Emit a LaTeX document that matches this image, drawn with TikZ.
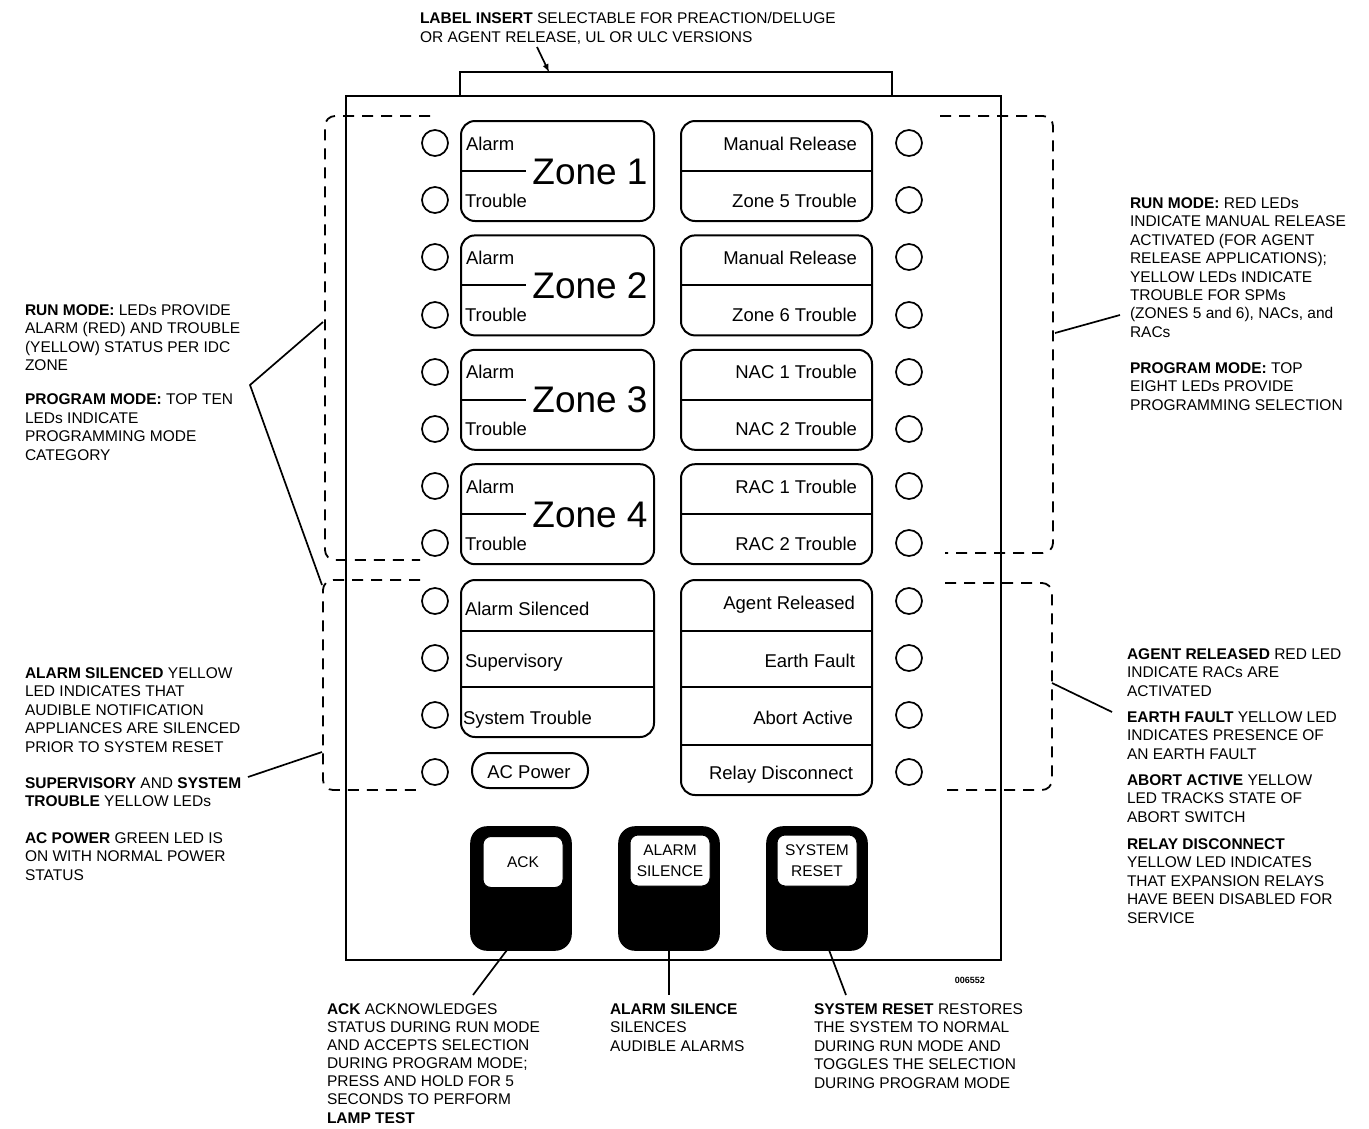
\documentclass[tikz,border=0pt]{standalone}
\usepackage{fontspec}
\setmainfont{Liberation Sans}

\begin{document}
\begin{tikzpicture}[x=1pt, y=-1pt,
  every node/.style={inner sep=0pt, outer sep=0pt},
  note/.style={anchor=north west, align=left, font=\fontsize{15.5}{18.4}\selectfont},
  led/.style={draw, circle, line width=1.7pt, minimum size=26pt},
  box/.style={draw, rectangle, line width=2pt, rounded corners=14pt},
  lbl/.style={font=\fontsize{18.5}{20}\selectfont},
  zonelbl/.style={font=\fontsize{37}{40}\selectfont, anchor=base},
  btn/.style={draw, fill=black, rectangle, line width=1.6pt, rounded corners=16pt, minimum width=100pt, minimum height=123pt},
  btncap/.style={draw, fill=white, rectangle, line width=1pt, rounded corners=8pt, minimum width=80pt, minimum height=51pt, align=center, font=\fontsize{15.5}{21}\selectfont},
  bracket/.style={line width=1.8pt, dash pattern=on 11pt off 8pt, rounded corners=10pt}]

\useasboundingbox (0,0) rectangle (1369,1128);

% panel outline and label insert
\draw [line width=2.2pt] (346,96) rectangle (1001,960);
\draw [line width=2.2pt] (460,96) |- (892,72) -- (892,96);

% LEDs, left column
\node [led] (la1) at (435,143) {};
\node [led] (lb1) at (435,200) {};
\node [led] (la2) at (435,257) {};
\node [led] (lb2) at (435,315) {};
\node [led] (la3) at (435,372) {};
\node [led] (lb3) at (435,429) {};
\node [led] (la4) at (435,486) {};
\node [led] (lb4) at (435,543) {};
\node [led] (lsil) at (435,601) {};
\node [led] (lsup) at (435,658) {};
\node [led] (lsys) at (435,715) {};
\node [led] (lac) at (435,772) {};

% LEDs, right column
\node [led] (ra1) at (909,143) {};
\node [led] (rb1) at (909,200) {};
\node [led] (ra2) at (909,257) {};
\node [led] (rb2) at (909,315) {};
\node [led] (ra3) at (909,372) {};
\node [led] (rb3) at (909,429) {};
\node [led] (ra4) at (909,486) {};
\node [led] (rb4) at (909,543) {};
\node [led] (ragt) at (909,601) {};
\node [led] (rearth) at (909,658) {};
\node [led] (rabort) at (909,715) {};
\node [led] (rrelay) at (909,772) {};

% zone windows
\node [box, minimum width=193pt, minimum height=100pt] (zw1) at (557.5,171) {};
\node [box, minimum width=193pt, minimum height=100pt] (zw2) at (557.5,285.4) {};
\node [box, minimum width=193pt, minimum height=100pt] (zw3) at (557.5,399.8) {};
\node [box, minimum width=193pt, minimum height=100pt] (zw4) at (557.5,514.2) {};
\draw [line width=2pt] (zw1.west) -- ++(65,0);
\draw [line width=2pt] (zw2.west) -- ++(65,0);
\draw [line width=2pt] (zw3.west) -- ++(65,0);
\draw [line width=2pt] (zw4.west) -- ++(65,0);

\node [lbl, anchor=base west] (alm1) at (466,150) {Alarm};
\node [lbl, anchor=base west] (trb1) at (465,207) {Trouble};
\node [zonelbl] (zn1) at (590,184) {Zone 1};
\node [lbl, anchor=base west] (alm2) at (466,264.4) {Alarm};
\node [lbl, anchor=base west] (trb2) at (465,321.4) {Trouble};
\node [zonelbl] (zn2) at (590,298.4) {Zone 2};
\node [lbl, anchor=base west] (alm3) at (466,378.8) {Alarm};
\node [lbl, anchor=base west] (trb3) at (465,435.8) {Trouble};
\node [zonelbl] (zn3) at (590,412.8) {Zone 3};
\node [lbl, anchor=base west] (alm4) at (466,493.2) {Alarm};
\node [lbl, anchor=base west] (trb4) at (465,550.2) {Trouble};
\node [zonelbl] (zn4) at (590,527.2) {Zone 4};

% release / circuit windows
\node [box, minimum width=191pt, minimum height=100pt] (cw1) at (776.5,171) {};
\node [box, minimum width=191pt, minimum height=100pt] (cw2) at (776.5,285.4) {};
\node [box, minimum width=191pt, minimum height=100pt] (cw3) at (776.5,399.8) {};
\node [box, minimum width=191pt, minimum height=100pt] (cw4) at (776.5,514.2) {};
\draw [line width=2pt] (cw1.west) -- (cw1.east);
\draw [line width=2pt] (cw2.west) -- (cw2.east);
\draw [line width=2pt] (cw3.west) -- (cw3.east);
\draw [line width=2pt] (cw4.west) -- (cw4.east);

\node [lbl, anchor=base east] (mr1) at (857,150) {Manual Release};
\node [lbl, anchor=base east] (z5t) at (857,207) {Zone 5 Trouble};
\node [lbl, anchor=base east] (mr2) at (857,264.4) {Manual Release};
\node [lbl, anchor=base east] (z6t) at (857,321.4) {Zone 6 Trouble};
\node [lbl, anchor=base east] (nac1) at (857,378.8) {NAC 1 Trouble};
\node [lbl, anchor=base east] (nac2) at (857,435.8) {NAC 2 Trouble};
\node [lbl, anchor=base east] (rac1) at (857,493.2) {RAC 1 Trouble};
\node [lbl, anchor=base east] (rac2) at (857,550.2) {RAC 2 Trouble};

% common status windows
\node [box, minimum width=193pt, minimum height=157pt] (sw) at (557.5,658.5) {};
\draw [line width=2pt] (461,631) -- (654,631);
\draw [line width=2pt] (461,687) -- (654,687);
\node [lbl, anchor=base west] (sil) at (465,615) {Alarm Silenced};
\node [lbl, anchor=base west] (sup) at (465,667) {Supervisory};
\node [lbl, anchor=base west] (sys) at (463,724) {System Trouble};
\node [draw, line width=2pt, rounded corners=17pt, minimum width=116pt, minimum height=35pt] (acw) at (530,770.5) {};
\node [lbl, anchor=base] (acp) at (529,778) {AC Power};

\node [box, minimum width=191pt, minimum height=215pt] (ew) at (776.5,687.5) {};
\draw [line width=2pt] (681,631) -- (872,631);
\draw [line width=2pt] (681,687) -- (872,687);
\draw [line width=2pt] (681,745) -- (872,745);
\node [lbl, anchor=base east] (agt) at (855,609) {Agent Released};
\node [lbl, anchor=base east] (eft) at (855,667) {Earth Fault};
\node [lbl, anchor=base east] (abt) at (853,724) {Abort Active};
\node [lbl, anchor=base east] (rly) at (853,779) {Relay Disconnect};

% push buttons
\node [btn] (ackbtn) at (521,888.5) {};
\node [btn] (silbtn) at (669,888.5) {};
\node [btn] (rstbtn) at (817,888.5) {};
\node [btncap] (ackcap) at (523,862) {ACK};
\node [btncap] (silcap) at (670,860.5) {ALARM\\SILENCE};
\node [btncap] (rstcap) at (817,860.5) {SYSTEM\\RESET};

\node [font=\bfseries\fontsize{9}{10}\selectfont, anchor=east] (dwg) at (985,980) {006552};

% dashed groupings
\draw [bracket] (430,116) -| (325,560) -- (420,560);
\draw [bracket] (420,580) -| (323,790) -- (420,790);
\draw [bracket] (940,116) -| (1053,553) -- (945,553);
\draw [bracket] (945,583) -| (1052,790) -- (940,790);

% callout texts
\node [note] (insert) at (420,12.6) {\textbf{LABEL INSERT} SELECTABLE FOR PREACTION/DELUGE\\OR AGENT RELEASE, UL OR ULC VERSIONS};

\node [note] (zrun) at (25,304.6) {\textbf{RUN MODE:} LEDs PROVIDE\\ALARM (RED) AND TROUBLE\\(YELLOW) STATUS PER IDC\\ZONE};
\node [note] (zprog) at (25,394) {\textbf{PROGRAM MODE:} TOP TEN\\LEDs INDICATE\\PROGRAMMING MODE\\CATEGORY};

\node [note] (silnote) at (25,667.6) {\textbf{ALARM SILENCED} YELLOW\\LED INDICATES THAT\\AUDIBLE NOTIFICATION\\APPLIANCES ARE SILENCED\\PRIOR TO SYSTEM RESET};
\node [note] (supnote) at (25,777.6) {\textbf{SUPERVISORY} AND \textbf{SYSTEM}\\\textbf{TROUBLE} YELLOW LEDs};
\node [note] (acnote) at (25,832.6) {\textbf{AC POWER} GREEN LED IS\\ON WITH NORMAL POWER\\STATUS};

\node [note] (crun) at (1130,197.6) {\textbf{RUN MODE:} RED LEDs\\INDICATE MANUAL RELEASE\\ACTIVATED (FOR AGENT\\RELEASE APPLICATIONS);\\YELLOW LEDs INDICATE\\TROUBLE FOR SPMs\\(ZONES 5 and 6), NACs, and\\RACs};
\node [note] (cprog) at (1130,362.6) {\textbf{PROGRAM MODE:} TOP\\EIGHT LEDs PROVIDE\\PROGRAMMING SELECTION};

\node [note] (agtnote) at (1127,648.6) {\textbf{AGENT RELEASED} RED LED\\INDICATE RACs ARE\\ACTIVATED};
\node [note] (eftnote) at (1127,711.6) {\textbf{EARTH FAULT} YELLOW LED\\INDICATES PRESENCE OF\\AN EARTH FAULT};
\node [note] (abtnote) at (1127,774.6) {\textbf{ABORT ACTIVE} YELLOW\\LED TRACKS STATE OF\\ABORT SWITCH};
\node [note] (rlynote) at (1127,838.6) {\textbf{RELAY DISCONNECT}\\YELLOW LED INDICATES\\THAT EXPANSION RELAYS\\HAVE BEEN DISABLED FOR\\SERVICE};

\node [note, font=\fontsize{15.5}{18.1}\selectfont] (acknote) at (327,1003.6) {\textbf{ACK} ACKNOWLEDGES\\STATUS DURING RUN MODE\\AND ACCEPTS SELECTION\\DURING PROGRAM MODE;\\PRESS AND HOLD FOR 5\\SECONDS TO PERFORM\\\textbf{LAMP TEST}};
\node [note] (silnote2) at (610,1003.6) {\textbf{ALARM SILENCE}\\SILENCES\\AUDIBLE ALARMS};
\node [note] (rstnote) at (814,1003.6) {\textbf{SYSTEM RESET} RESTORES\\THE SYSTEM TO NORMAL\\DURING RUN MODE AND\\TOGGLES THE SELECTION\\DURING PROGRAM MODE};

% leader ends
\coordinate (zbrk) at (323,322);
\coordinate (zbend) at (250,385);
\coordinate (zjoin) at (322,585);
\coordinate (sbrk) at (322,752);
\coordinate (stip) at (248,777);
\coordinate (cbrk) at (1055,333);
\coordinate (ctip) at (1120,315);
\coordinate (ebrk) at (1052,683);
\coordinate (etip) at (1112,712);
\coordinate (itip) at (537,47);
\coordinate (iend) at (549,72);
\coordinate (acktop) at (507,950);
\coordinate (ackend) at (473,995);
\coordinate (siltop) at (669,950);
\coordinate (silend) at (669,995);
\coordinate (rsttop) at (829,950);
\coordinate (rstend) at (846,995);

\begin{scope}[line width=1.7pt]
\draw (zbrk) -- (zbend) -- (zjoin);
\draw (stip) -- (sbrk);
\draw (cbrk) -- (ctip);
\draw (ebrk) -- (etip);
\draw (acktop) -- (ackend);
\draw (siltop) -- (silend);
\draw (rsttop) -- (rstend);
\draw [-latex] (itip) -- (iend);
\end{scope}

\end{tikzpicture}
\end{document}
